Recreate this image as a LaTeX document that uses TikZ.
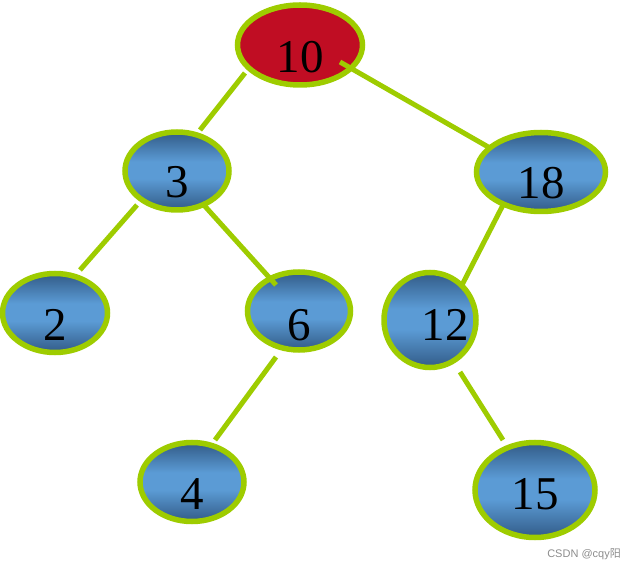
\documentclass[tikz,border=0pt]{standalone}
\usepackage{fontspec}
\setmainfont{Liberation Serif}
\newfontfamily\wmfont{Liberation Sans}
\newfontfamily\cjk{Noto Sans CJK SC}
\usetikzlibrary{shapes.geometric,calc}
\definecolor{lime}{HTML}{9ECC00}
\definecolor{bluemid}{HTML}{5B9BD5}
\definecolor{bluedark}{HTML}{325B87}
\definecolor{rootred}{HTML}{C00D23}
\pgfdeclareverticalshading{bluegrad}{100bp}{color(0bp)=(bluedark); color(25bp)=(bluedark); color(45bp)=(bluemid); color(56bp)=(bluemid); color(75bp)=(bluedark); color(100bp)=(bluedark)}
\tikzset{
  nd/.style={ellipse,draw=lime,line width=5.5pt,inner sep=0pt,shading=bluegrad},
  rootnd/.style={ellipse,draw=lime,line width=5.5pt,inner sep=0pt,fill=rootred},
  lbl/.style={font=\fontsize{47}{47}\selectfont,inner sep=0pt,anchor=base},
  edge/.style={draw=lime,line width=5pt}
}
\begin{document}
\begin{tikzpicture}[x=1pt,y=-1pt]
\useasboundingbox (0,0) rectangle (635,569);
% nodes
\node[rootnd,minimum width=125pt,minimum height=80pt] (n10) at (300,45) {};
\node[nd,minimum width=104pt,minimum height=78pt] (n3) at (177,171) {};
\node[nd,minimum width=129pt,minimum height=79pt] (n18) at (541,172) {};
\node[nd,minimum width=105pt,minimum height=79pt] (n2) at (55,313) {};
\node[nd,minimum width=103pt,minimum height=78pt] (n6) at (299,311) {};
\node[nd,minimum width=92pt,minimum height=95pt] (n12) at (430,320) {};
\node[nd,minimum width=104pt,minimum height=79pt] (n4) at (192,482) {};
\node[nd,minimum width=120pt,minimum height=95pt] (n15) at (535,490) {};
% labels
\node[lbl] (t10) at (300,73) {10};
\node[lbl] (t3) at (177,198) {3};
\node[lbl] (t18) at (541,199) {18};
\node[lbl] (t2) at (55,341) {2};
\node[lbl] (t6) at (299,341) {6};
\node[lbl] (t12) at (445,341) {12};
\node[lbl] (t4) at (192,509) {4};
\node[lbl] (t15) at (535,509) {15};
% edges
\draw[edge] ($(n10.center)+(-55,28)$) -- ($(n3.center)+(23,-41)$);
\draw[edge] ($(n10.center)+(40,17)$) -- ($(n18.center)+(-51,-24)$);
\draw[edge] ($(n3.center)+(-40,34)$) -- ($(n2.center)+(25,-43)$);
\draw[edge] ($(n3.center)+(25,32)$) -- ($(n6.center)+(-23,-26)$);
\draw[edge] ($(n18.center)+(-38,33)$) -- ($(n12.center)+(32,-35)$);
\draw[edge] ($(n6.center)+(-23,46)$) -- ($(n4.center)+(23,-42)$);
\draw[edge] ($(n12.center)+(30,52)$) -- ($(n15.center)+(-32,-50)$);
% watermark
\node[anchor=base east,text=gray!90,font=\wmfont\fontsize{11}{11}\selectfont,inner sep=0pt] (wm) at (621,557) {CSDN @cqy{\cjk 阳}};
\end{tikzpicture}
\end{document}
